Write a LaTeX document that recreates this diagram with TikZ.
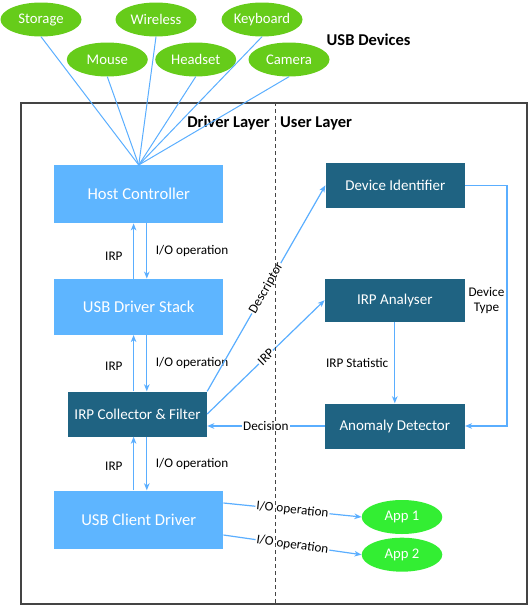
\documentclass[tikz,border=0pt]{standalone}
\usepackage{fontspec}
\setmainfont{Carlito}
\usetikzlibrary{arrows.meta,shapes.geometric,calc}
\definecolor{lblue}{HTML}{5EB5FF}
\definecolor{dteal}{HTML}{1F6382}
\definecolor{ygreen}{HTML}{66CC1A}
\definecolor{bgreen}{HTML}{33EE33}
\definecolor{arrblue}{HTML}{5AAEFF}
\definecolor{frame}{HTML}{444444}
\begin{document}
\begin{tikzpicture}[x=1pt,y=-1pt,
  lbox/.style={fill=lblue,draw=none,minimum width=169pt,minimum height=58pt,text=white,font=\fontsize{16.6}{18}\selectfont,inner sep=0pt},
  dbox/.style={fill=dteal,draw=none,minimum width=140pt,minimum height=45pt,text=white,font=\fontsize{15}{17}\selectfont,inner sep=0pt},
  dev/.style={ellipse,fill=ygreen,draw=none,minimum width=81pt,minimum height=34pt,text=white,font=\fontsize{14.7}{16}\selectfont,inner sep=0pt},
  app/.style={ellipse,fill=bgreen,draw=none,minimum width=80.6pt,minimum height=34pt,text=white,font=\fontsize{14.7}{16}\selectfont,inner sep=0pt},
  wire/.style={draw=arrblue,line width=1pt},
  arr/.style={draw=arrblue,line width=1.2pt,-{Stealth[length=7pt,width=5.5pt,inset=2pt]}},
  lbl/.style={font=\fontsize{13.2}{15}\selectfont,text=black,inner sep=1pt},
  ttl/.style={font=\fontsize{16.5}{18}\selectfont\bfseries,text=black,inner sep=0pt}]
\useasboundingbox (0,0) rectangle (529,605);
% frame
\node[draw=frame,line width=1.3pt,minimum width=506pt,minimum height=501pt,inner sep=0pt] (frm) at (274,353.5) {};
% titles
\node[ttl] (usbdev) at (368.6,39.5) {USB Devices};
\node[ttl,anchor=east] (drvl) at (270,123) {Driver Layer};
\node[ttl,anchor=west] (usrl) at (280,123) {User Layer};
% devices
\node[dev] (storage) at (41,19.5) {Storage};
\node[dev] (wireless) at (156,19.5) {Wireless};
\node[dev] (keyboard) at (262,19.5) {Keyboard};
\node[dev] (mouse) at (107.3,59.5) {Mouse};
\node[dev] (headset) at (195.7,59.5) {Headset};
\node[dev] (camera) at (289,59.5) {Camera};
% driver boxes
\node[lbox] (host) at (138.75,194.2) {Host Controller};
\node[lbox,minimum height=56pt] (stack) at (138.75,306.8) {USB Driver Stack};
\node[dbox,minimum width=139pt] (coll) at (137.5,414) {IRP Collector \& Filter};
\node[lbox] (client) at (138.75,519.5) {USB Client Driver};
% user boxes
\node[dbox,minimum width=139.4pt,minimum height=44.6pt] (devid) at (395.3,185.3) {Device Identifier};
\node[dbox,minimum height=43pt] (irpa) at (394.8,300.2) {IRP Analyser};
\node[dbox] (anom) at (394.8,426) {Anomaly Detector};
% apps
\node[app] (app1) at (402,517) {App 1};
\node[app] (app2) at (402,554.7) {App 2};
% device wires
\foreach \d in {storage,mouse,wireless,headset,keyboard,camera}
  \draw[wire] (\d.south) -- (host.north);
% vertical arrows
\draw[arr] (stack.north -| 133.6,0) -- node[lbl,left=9.5pt,pos=0.4] (l1) {IRP} (host.south -| 133.6,0);
\draw[arr] (host.south -| 146.8,0) -- node[lbl,anchor=west,pos=0.5,xshift=7.5pt] (l2) {I/O operation} (stack.north -| 146.8,0);
\draw[arr] (coll.north -| 133.6,0) -- node[lbl,left=9.5pt,pos=0.45] (l3) {IRP} (stack.south -| 133.6,0);
\draw[arr] (stack.south -| 146.8,0) -- node[lbl,anchor=west,pos=0.5,xshift=7.5pt] (l4) {I/O operation} (coll.north -| 146.8,0);
\draw[arr] (client.north -| 133.6,0) -- node[lbl,left=9.5pt,pos=0.45] (l5) {IRP} (coll.south -| 133.6,0);
\draw[arr] (coll.south -| 146.8,0) -- node[lbl,anchor=west,pos=0.5,xshift=7.5pt] (l6) {I/O operation} (client.north -| 146.8,0);
% collector to user layer
\draw[arr] (coll.north east) -- node[lbl,sloped,fill=white] (l7) {Descriptor} (devid.west);
\draw[arr] (coll.east) -- node[lbl,sloped,fill=white] (l8) {IRP} (irpa.west);
\draw[arr] (anom.west) -- node[lbl,fill=white] (l9) {Decision} (coll.east |- anom.west);
\draw[arr] (irpa.south) -- node[lbl,left=5pt] (l10) {IRP Statistic} (anom.north);
\draw[arr] (devid.east) -- ++(41.7,0) |- node[lbl,pos=0.24,left=1pt,align=center] (l11) {Device\\Type} (anom.east);
% apps
\draw[arr] (client.east |- 0,503) -- node[lbl,sloped,fill=white] (l12) {I/O operation} (app1.west);
\draw[arr] (client.east |- 0,535) -- node[lbl,sloped,fill=white] (l13) {I/O operation} (app2.west);
% layer divider
\draw[frame,line width=0.9pt,dash pattern=on 4pt off 3pt] (frm.north -| 275,0) -- (frm.south -| 275,0);
\end{tikzpicture}
\end{document}
